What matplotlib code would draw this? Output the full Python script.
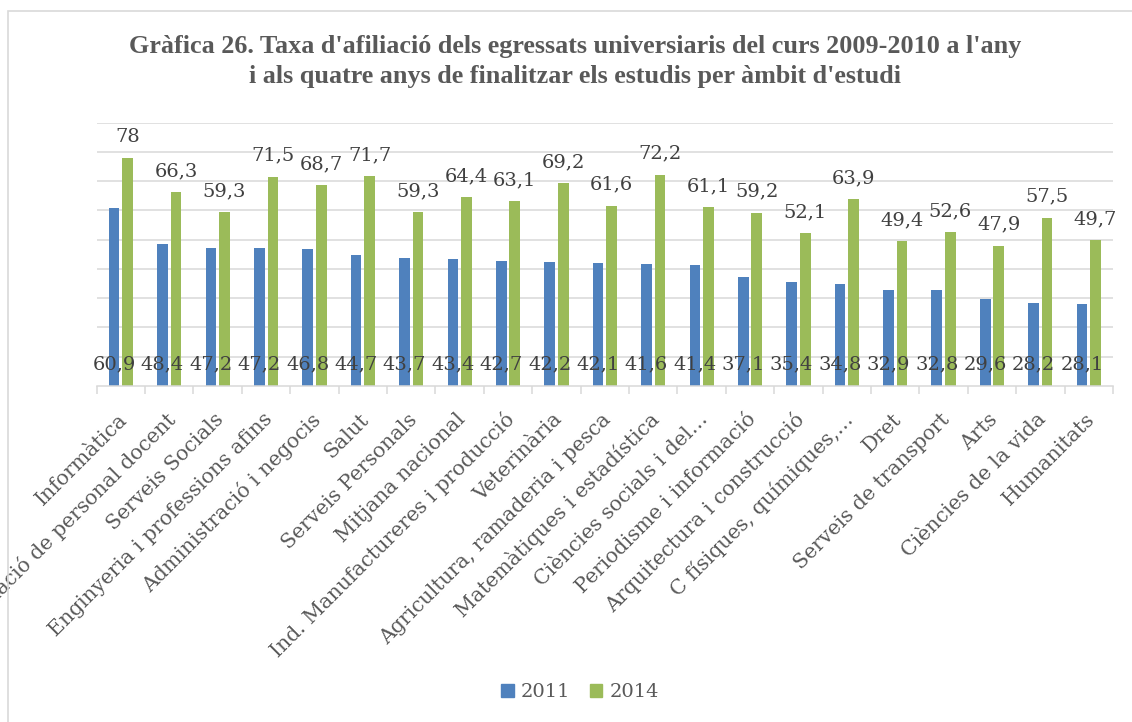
import matplotlib
matplotlib.use("Agg")
import matplotlib.pyplot as plt
from matplotlib.patches import Patch, Rectangle
from matplotlib.transforms import ScaledTranslation

categories = [
    "Informàtica", "Formació de personal docent", "Serveis Socials",
    "Enginyeria i professions afins", "Administració i negocis", "Salut",
    "Serveis Personals", "Mitjana nacional", "Ind. Manufactureres i producció",
    "Veterinària", "Agricultura, ramaderia i pesca", "Matemàtiques i estadística",
    "Ciències socials i del…", "Periodisme i informació", "Arquitectura i construcció",
    "C físiques, químiques,…", "Dret", "Serveis de transport", "Arts",
    "Ciències de la vida", "Humanitats",
]
vals_2011 = [60.9, 48.4, 47.2, 47.2, 46.8, 44.7, 43.7, 43.4, 42.7, 42.2, 42.1,
             41.6, 41.4, 37.1, 35.4, 34.8, 32.9, 32.8, 29.6, 28.2, 28.1]
vals_2014 = [78, 66.3, 59.3, 71.5, 68.7, 71.7, 59.3, 64.4, 63.1, 69.2, 61.6,
             72.2, 61.1, 59.2, 52.1, 63.9, 49.4, 52.6, 47.9, 57.5, 49.7]
series_names = ["2011", "2014"]
title_lines = [
    "Gràfica 26. Taxa d'afiliació dels egressats universiaris del curs 2009-2010 a l'any",
    "i als quatre anys de finalitzar els estudis per àmbit d'estudi",
]

BLUE = "#4F81BD"
GREEN = "#9BBB59"
GRID = "#D9D9D9"
SERIF = "DejaVu Serif"


def fmt(v):
    return f"{v:g}".replace(".", ",")


fig = plt.figure(figsize=(11.32, 7.22), dpi=100)
ax = fig.add_axes([0.0854, 0.4654, 0.8978, 0.3649])

x = list(range(len(categories)))
w = 0.22
off = 0.14
ax.bar([i - off for i in x], vals_2011, width=w, color=BLUE, zorder=2)
ax.bar([i + off for i in x], vals_2014, width=w, color=GREEN, zorder=2)

# data labels: 2011 inside base, 2014 outside end
for i, v in zip(x, vals_2011):
    ax.annotate(fmt(v), (i - off, 0), xytext=(0, 12), textcoords="offset points",
                ha="center", va="baseline", fontsize=14, family=SERIF, color="#404040")
for i, v in zip(x, vals_2014):
    ax.annotate(fmt(v), (i + off, v), xytext=(0, 11.5), textcoords="offset points",
                ha="center", va="baseline", fontsize=14, family=SERIF, color="#404040")

ax.set_xlim(-0.5, len(categories) - 0.5)
ax.set_ylim(0, 90)
ax.set_yticks(range(10, 91, 10))
ax.yaxis.grid(True, color=GRID, lw=1.1, zorder=0)
ax.tick_params(axis="y", length=0, labelleft=False)

# category divider ticks
ax.set_xticks([i - 0.5 for i in range(len(categories) + 1)], minor=True)
ax.tick_params(axis="x", which="minor", length=6, width=1.1, color=GRID)
ax.set_xticks(x)
ax.set_xticklabels(categories, rotation=45, ha="right", va="center",
                   rotation_mode="anchor", fontsize=14.7, family=SERIF, color="#595959")
ax.tick_params(axis="x", which="major", length=0, pad=22)
for lab in ax.get_xticklabels():
    lab.set_transform(lab.get_transform() + ScaledTranslation(3 / 100, 0, fig.dpi_scale_trans))

for s in ["left", "right", "top"]:
    ax.spines[s].set_visible(False)
ax.spines["bottom"].set_color(GRID)
ax.spines["bottom"].set_linewidth(1.1)

for k, line in enumerate(title_lines):
    fig.text(0.508, 1 - (53 + 30 * k) / 722, line, ha="center", va="baseline",
             fontsize=18.8, fontweight="bold", family="Liberation Serif", color="#595959")

handles = [Patch(color=BLUE), Patch(color=GREEN)]
leg = fig.legend(handles, series_names, loc="center", bbox_to_anchor=(0.5124, 0.0416),
                 ncol=2, frameon=False, handlelength=0.65, handleheight=0.65,
                 handletextpad=0.35, columnspacing=1.0,
                 prop={"family": SERIF, "size": 14})
for t in leg.get_texts():
    t.set_color("#595959")

# chart area border
fig.patches.append(Rectangle((8 / 1132, -0.1), 1.2, 1.1 - 11 / 722,
                             transform=fig.transFigure, fill=False,
                             edgecolor=GRID, lw=1.2))

fig.savefig("out.png", dpi=100)
